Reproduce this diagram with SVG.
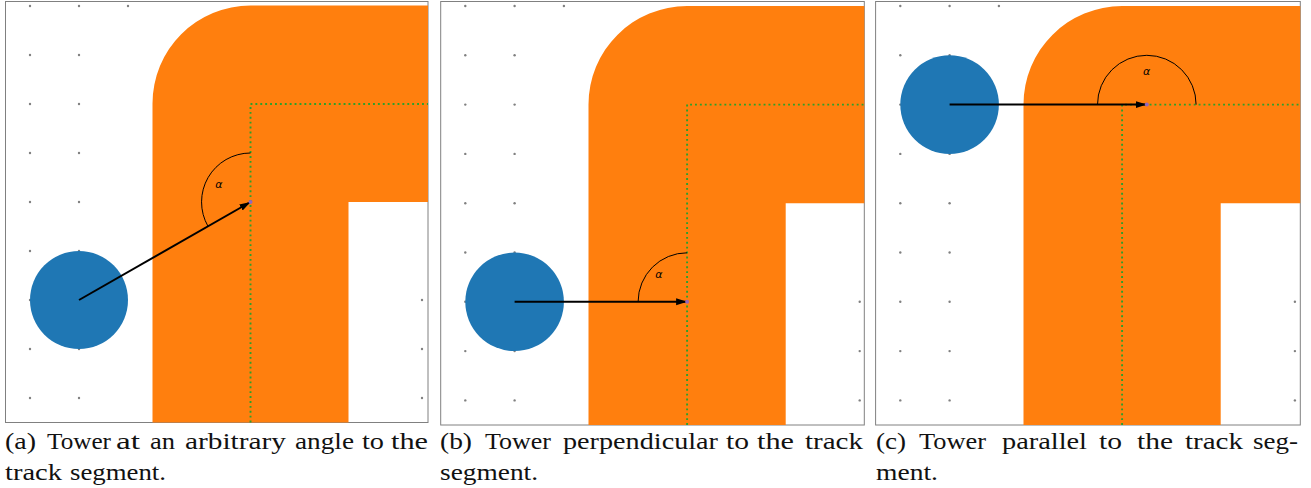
<svg xmlns="http://www.w3.org/2000/svg" width="1311" height="488" viewBox="0 0 1311 488">
<style>
.frame{fill:#ffffff;stroke:#808080;stroke-width:1}
.dot{fill:#808080}
.track{fill:#ff7f0e;stroke:none}
.center{fill:none;stroke:#2ca02c;stroke-width:1.9;stroke-dasharray:1.9 3}
.tower{fill:#1f77b4}
.arrow{fill:none;stroke:#000;stroke-width:2;marker-end:url(#ah)}
.arc{fill:none;stroke:#000;stroke-width:1}
.pt{fill:#9467bd}
.alpha{font-family:'DejaVu Sans',sans-serif;font-style:italic;font-size:11px;fill:#000;text-anchor:middle}
</style>
<defs>
<marker id="ah" markerUnits="userSpaceOnUse" markerWidth="12" markerHeight="8" refX="11" refY="3.5" orient="auto">
<path d="M0,0 L11,3.5 L0,7 Z" fill="#000"/>
</marker>
</defs>
<rect width="1311" height="488" fill="#fff"/>

<!-- Panel (a) -->
<g id="panel-a">
<rect class="frame" x="5.5" y="1.5" width="422.5" height="421"/>
<g id="grid-a" class="dot">
<circle cx="30" cy="6" r="1.2"/><circle cx="79" cy="6" r="1.2"/><circle cx="128" cy="6" r="1.2"/>
<circle cx="30" cy="55" r="1.2"/><circle cx="79" cy="55" r="1.2"/>
<circle cx="30" cy="104" r="1.2"/><circle cx="79" cy="104" r="1.2"/>
<circle cx="30" cy="153" r="1.2"/><circle cx="79" cy="153" r="1.2"/>
<circle cx="30" cy="202" r="1.2"/><circle cx="79" cy="202" r="1.2"/>
<circle cx="30" cy="251" r="1.2"/><circle cx="79" cy="251" r="1.2"/>
<circle cx="30" cy="300" r="1.2"/><circle cx="422" cy="300" r="1.2"/>
<circle cx="30" cy="349" r="1.2"/><circle cx="79" cy="349" r="1.2"/><circle cx="422" cy="349" r="1.2"/>
<circle cx="30" cy="398" r="1.2"/><circle cx="79" cy="398" r="1.2"/><circle cx="422" cy="398" r="1.2"/>
</g>
<g id="track-a">
<path class="track" d="M152.5,422.5 V103.5 A98,98 0 0 1 250.5,5.5 H428 V202 H348.5 V422.5 Z"/>
<path class="center" d="M250.5,422.5 V104 H428"/>
</g>
<g id="tower-a"><circle class="tower" cx="79" cy="300" r="49"/></g>
<g id="angle-a">
<path class="arc" d="M250.5,153 A49,49 0 0 0 208,226.3"/>
<text class="alpha" x="219" y="188">α</text>
</g>
</g>

<!-- Panel (b) -->
<g id="panel-b">
<rect class="frame" x="440.7" y="1.5" width="423.6" height="423.5"/>
<g id="grid-b" class="dot">
<circle cx="465.3" cy="6" r="1.2"/><circle cx="514.6" cy="6" r="1.2"/><circle cx="563.9" cy="6" r="1.2"/>
<circle cx="465.3" cy="55.3" r="1.2"/><circle cx="514.6" cy="55.3" r="1.2"/>
<circle cx="465.3" cy="104.6" r="1.2"/><circle cx="514.6" cy="104.6" r="1.2"/>
<circle cx="465.3" cy="153.9" r="1.2"/><circle cx="514.6" cy="153.9" r="1.2"/>
<circle cx="465.3" cy="203.2" r="1.2"/><circle cx="514.6" cy="203.2" r="1.2"/>
<circle cx="465.3" cy="252.5" r="1.2"/><circle cx="514.6" cy="252.5" r="1.2"/>
<circle cx="465.3" cy="301.8" r="1.2"/><circle cx="859.7" cy="301.8" r="1.2"/>
<circle cx="465.3" cy="351.1" r="1.2"/><circle cx="514.6" cy="351.1" r="1.2"/><circle cx="859.7" cy="351.1" r="1.2"/>
<circle cx="465.3" cy="400.4" r="1.2"/><circle cx="514.6" cy="400.4" r="1.2"/><circle cx="859.7" cy="400.4" r="1.2"/>
</g>
<g id="track-b">
<path class="track" d="M588.5,425 V104.6 A98.6,98.6 0 0 1 687.1,6 H864.3 V203.2 H785.7 V425 Z"/>
<path class="center" d="M687.1,425 V104.6 H864.3"/>
</g>
<g id="tower-b"><circle class="tower" cx="514.6" cy="301.8" r="49.3"/></g>
<g id="angle-b">
<path class="arc" d="M687.1,252.8 A49,49 0 0 0 638.1,301.8"/>
<text class="alpha" x="659" y="278">α</text>
</g>
</g>

<!-- Panel (c) -->
<g id="panel-c">
<rect class="frame" x="875.6" y="1.5" width="424.7" height="423.5"/>
<g id="grid-c" class="dot">
<circle cx="900.3" cy="6" r="1.2"/><circle cx="949.6" cy="6" r="1.2"/><circle cx="998.9" cy="6" r="1.2"/>
<circle cx="900.3" cy="55.3" r="1.2"/><circle cx="949.6" cy="55.3" r="1.2"/>
<circle cx="900.3" cy="104.6" r="1.2"/>
<circle cx="900.3" cy="153.9" r="1.2"/><circle cx="949.6" cy="153.9" r="1.2"/>
<circle cx="900.3" cy="203.2" r="1.2"/><circle cx="949.6" cy="203.2" r="1.2"/>
<circle cx="900.3" cy="252.5" r="1.2"/><circle cx="949.6" cy="252.5" r="1.2"/>
<circle cx="900.3" cy="301.8" r="1.2"/><circle cx="949.6" cy="301.8" r="1.2"/><circle cx="1294.9" cy="301.8" r="1.2"/>
<circle cx="900.3" cy="351.1" r="1.2"/><circle cx="949.6" cy="351.1" r="1.2"/><circle cx="1294.9" cy="351.1" r="1.2"/>
<circle cx="900.3" cy="400.4" r="1.2"/><circle cx="949.6" cy="400.4" r="1.2"/><circle cx="1294.9" cy="400.4" r="1.2"/>
</g>
<g id="track-c">
<path class="track" d="M1023.5,425 V104.6 A98.6,98.6 0 0 1 1122.1,6 H1300.3 V203.2 H1220.7 V425 Z"/>
<path class="center" d="M1122.1,425 V104.6 H1300.3"/>
</g>
<g id="tower-c"><circle class="tower" cx="949.6" cy="104.6" r="49.3"/></g>
<g id="angle-c">
<path class="arc" d="M1097.5,104.6 A49.3,49.3 0 0 1 1196.1,104.6"/>
<text class="alpha" x="1146.7" y="75">α</text>
</g>
</g>

<!-- Connectors -->
<g id="connectors">
<path class="arrow" d="M79,300 L250.5,202"/>
<path class="arrow" d="M514.6,301.8 L687.1,301.8"/>
<path class="arrow" d="M949.6,104.6 L1146.8,104.6"/>
<circle class="pt" cx="250.5" cy="202" r="2"/>
<circle class="pt" cx="687.1" cy="301.8" r="2"/>
<circle class="pt" cx="1146.8" cy="104.6" r="2"/>
</g>

<!-- Captions -->
<g id="captions" font-family="Liberation Serif, Times New Roman, serif" font-size="23" fill="#111">
<text x="5" y="449" textLength="31" lengthAdjust="spacingAndGlyphs">(a)</text>
<text x="47" y="449" textLength="64" lengthAdjust="spacingAndGlyphs">Tower</text>
<text x="116" y="449" textLength="24" lengthAdjust="spacingAndGlyphs">at</text>
<text x="150" y="449" textLength="25" lengthAdjust="spacingAndGlyphs">an</text>
<text x="185" y="449" textLength="101" lengthAdjust="spacingAndGlyphs">arbitrary</text>
<text x="295" y="449" textLength="59" lengthAdjust="spacingAndGlyphs">angle</text>
<text x="362" y="449" textLength="22" lengthAdjust="spacingAndGlyphs">to</text>
<text x="391" y="449" textLength="37" lengthAdjust="spacingAndGlyphs">the</text>
<text x="5" y="480" textLength="57" lengthAdjust="spacingAndGlyphs">track</text>
<text x="70" y="480" textLength="96" lengthAdjust="spacingAndGlyphs">segment.</text>

<text x="440" y="449" textLength="32" lengthAdjust="spacingAndGlyphs">(b)</text>
<text x="485" y="449" textLength="66" lengthAdjust="spacingAndGlyphs">Tower</text>
<text x="563" y="449" textLength="155" lengthAdjust="spacingAndGlyphs">perpendicular</text>
<text x="726" y="449" textLength="23" lengthAdjust="spacingAndGlyphs">to</text>
<text x="757" y="449" textLength="37" lengthAdjust="spacingAndGlyphs">the</text>
<text x="805" y="449" textLength="58" lengthAdjust="spacingAndGlyphs">track</text>
<text x="440" y="480" textLength="98" lengthAdjust="spacingAndGlyphs">segment.</text>

<text x="876" y="449" textLength="30" lengthAdjust="spacingAndGlyphs">(c)</text>
<text x="919" y="449" textLength="67" lengthAdjust="spacingAndGlyphs">Tower</text>
<text x="1002" y="449" textLength="85" lengthAdjust="spacingAndGlyphs">parallel</text>
<text x="1099" y="449" textLength="23" lengthAdjust="spacingAndGlyphs">to</text>
<text x="1137" y="449" textLength="36" lengthAdjust="spacingAndGlyphs">the</text>
<text x="1185" y="449" textLength="58" lengthAdjust="spacingAndGlyphs">track</text>
<text x="1253" y="449" textLength="45" lengthAdjust="spacingAndGlyphs">seg-</text>
<text x="876" y="480" textLength="62" lengthAdjust="spacingAndGlyphs">ment.</text>
</g>
</svg>
